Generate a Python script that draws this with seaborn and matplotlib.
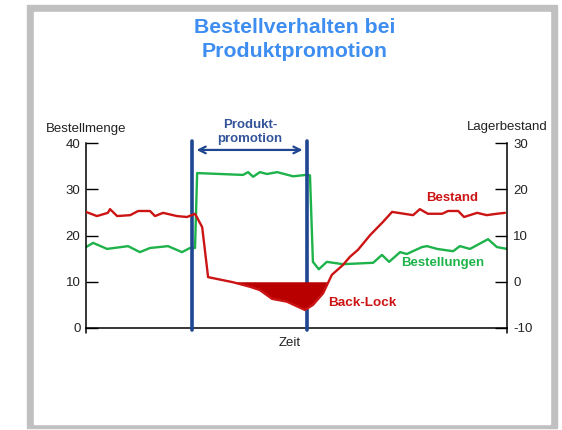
import numpy as np
import pandas as pd
import matplotlib
matplotlib.use("Agg")
import matplotlib.pyplot as plt
from matplotlib.patches import Rectangle
import seaborn as sns

# Zeit (0..100 over the x axis), Bestellungen on the left axis
green_t = [0, 1.7, 5.0, 10.0, 12.8, 15.2, 19.5, 22.8, 24.7, 25.9, 26.4, 37.3, 38.5, 39.7,
           41.3, 43.0, 45.4, 49.2, 52.3, 53.2, 53.9, 55.3, 57.2, 61.0, 68.2, 70.3, 72.0,
           74.6, 76.2, 79.8, 81.0, 83.4, 87.2, 88.8, 91.2, 95.5, 97.6, 100]
green_v = [17.5, 18.4, 17.1, 17.7, 16.4, 17.3, 17.7, 16.4, 17.3, 17.3, 33.5, 33.1, 33.7, 32.7,
           33.7, 33.3, 33.7, 32.8, 33.1, 33.0, 14.3, 12.7, 14.3, 13.8, 14.1, 15.8, 14.3,
           16.4, 16.0, 17.5, 17.7, 17.1, 16.6, 17.7, 17.1, 19.2, 17.5, 17.1]

# Bestand on the right axis (Lagerbestand)
red_t = [0, 2.6, 5.2, 5.7, 7.4, 10.5, 12.4, 15.2, 16.4, 18.3, 21.6, 24.0, 25.9, 27.6, 29.0,
         34.9, 39.0, 41.3, 44.2, 47.7, 52.0, 53.9, 56.3, 58.4, 61.0, 62.7, 64.6, 67.5, 70.5,
         72.7, 77.7, 79.3, 81.2, 84.6, 86.0, 88.4, 89.8, 92.9, 95.2, 97.6, 99.5]
red_v = [15.1, 14.2, 14.9, 15.7, 14.2, 14.4, 15.3, 15.3, 14.2, 14.9, 14.2, 14.0, 14.7, 11.8, 1.0,
         -0.1, -1.1, -1.8, -3.7, -4.3, -6.1, -5.0, -2.5, 1.5, 3.6, 5.4, 6.9, 10.1, 12.9,
         15.1, 14.4, 15.7, 14.7, 14.7, 15.3, 15.3, 14.0, 14.9, 14.4, 14.7, 14.9]

promo_start = 25.2
promo_end = 52.5
x_ticks = [6.5, 16, 25.2, 34.5, 43.5, 52.5, 62, 71.5, 81, 90]
left_ticks = [0, 10, 20, 30, 40]
right_ticks = [-10, 0, 10, 20, 30]

GREEN = "#1db34a"
RED = "#cc1414"
DARKRED = "#b80000"
BLUE = "#1f4690"
TXT = "#222222"

sns.set_style("white")
plt.rcParams["font.family"] = ["Liberation Sans", "DejaVu Sans"]
plt.rcParams["axes.unicode_minus"] = False

W, H = 562, 430
fig = plt.figure(figsize=(W / 100, H / 100), dpi=100)
fig.patches.append(Rectangle((27 / W, 1 - 428 / H), 530 / W, 423 / H,
                             transform=fig.transFigure, color="#c0c0c0", zorder=-20))
fig.patches.append(Rectangle((34 / W, 1 - 424 / H), 516 / W, 412 / H,
                             transform=fig.transFigure, color="white", zorder=-10))

ax = fig.add_axes([86 / W, 1 - 328 / H, 421 / W, 185 / H])
ax.set_facecolor("none")
ax2 = ax.twinx()
ax2.set_facecolor("none")

df_g = pd.DataFrame({"t": green_t, "v": green_v})
df_r = pd.DataFrame({"t": red_t, "v": red_v})
sns.lineplot(data=df_g, x="t", y="v", ax=ax, color=GREEN, lw=1.7, estimator=None)
sns.lineplot(data=df_r, x="t", y="v", ax=ax2, color=RED, lw=1.7, estimator=None)
rv = np.array(red_v)
ax2.fill_between(red_t, rv, 0, where=rv < 0, interpolate=True, color=DARKRED, lw=0)

ax.set_xlim(0, 100)
ax.set_ylim(0, 40)
ax2.set_ylim(-10, 30)
ax.set_xticks(x_ticks)
ax.set_xticklabels([])
ax.set_yticks(left_ticks)
ax2.set_yticks(right_ticks)
ax.tick_params(axis="x", direction="in", length=4, width=1, color="black")
ax.tick_params(axis="y", direction="in", length=8.5, width=1, color="black",
               labelsize=9.5, pad=4, labelcolor=TXT)
ax2.tick_params(axis="y", direction="in", length=8.5, width=1, color="black",
                labelsize=9.5, pad=4.5, labelcolor=TXT)
for a in (ax, ax2):
    a.set_xlabel("")
    a.set_ylabel("")
    a.spines["top"].set_visible(False)
    for s in ("left", "right", "bottom"):
        a.spines[s].set_color("black")
        a.spines[s].set_linewidth(1.1)
ax.spines["right"].set_visible(False)
ax2.spines["left"].set_visible(False)
ax2.spines["bottom"].set_visible(False)
# spines poke a little below the time axis
for xv in (0, 100):
    ax.plot([xv, xv], [0, -1.1], color="black", lw=1.1, clip_on=False)

# promotion markers
for xv in (promo_start, promo_end):
    ax.plot([xv, xv], [-0.4, 40.4], color=BLUE, lw=2.6, clip_on=False, zorder=5)
ax.annotate("", xy=(promo_start + 0.4, 38.5), xytext=(promo_end - 0.4, 38.5),
            arrowprops=dict(arrowstyle="<->", color=BLUE, lw=1.6,
                            mutation_scale=12), annotation_clip=False)
ax.text(39.0, 42.4, "Produkt-\npromotion", ha="center", va="center", fontsize=9.5,
        fontweight="bold", color="#34549a", linespacing=1.3)

ax.text(86.9, 28.1, "Bestand", ha="center", va="center", fontsize=9.5,
        fontweight="bold", color=RED)
ax.text(84.8, 14.1, "Bestellungen", ha="center", va="center", fontsize=9.5,
        fontweight="bold", color=GREEN)
ax.text(65.6, 5.4, "Back-Lock", ha="center", va="center", fontsize=9.7,
        fontweight="bold", color=RED)

ax.text(0, 43.0, "Bestellmenge", ha="center", va="center", fontsize=9.5, color=TXT)
ax.text(100, 43.5, "Lagerbestand", ha="center", va="center", fontsize=9.5, color=TXT)
ax.text(48.5, -3.3, "Zeit", ha="center", va="center", fontsize=9.5, color=TXT)

fig.text(295 / W, 1 - 39.5 / H, "Bestellverhalten bei\nProduktpromotion", ha="center",
         va="center", fontsize=15.3, fontweight="bold", color="#3d8ef0", linespacing=1.3)

fig.savefig("out.png", dpi=100, facecolor="white")
